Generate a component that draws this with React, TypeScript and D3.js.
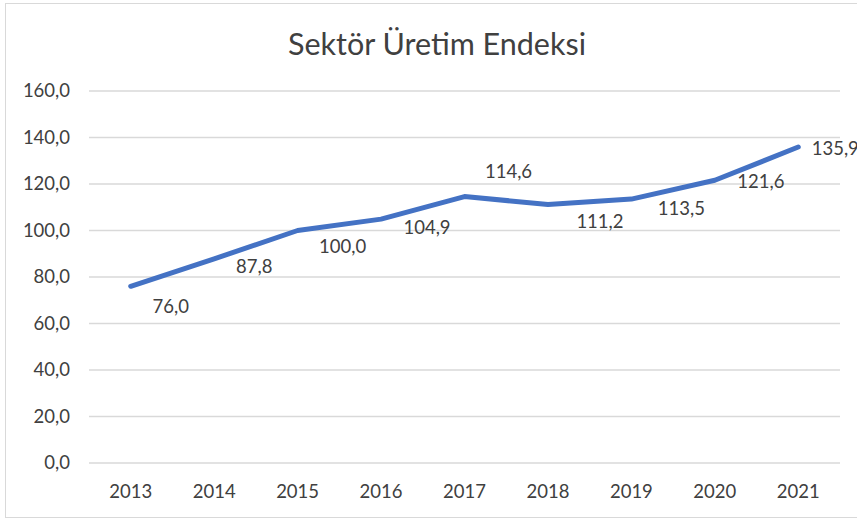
import React from "react";
import * as d3 from "d3";

const years = ["2013", "2014", "2015", "2016", "2017", "2018", "2019", "2020", "2021"];
const values = [76.0, 87.8, 100.0, 104.9, 114.6, 111.2, 113.5, 121.6, 135.9];
const yTicks = [0, 20, 40, 60, 80, 100, 120, 140, 160];
const title = "Sektör Üretim Endeksi";

// label placement (layout), relative to each point
const labelOffsets: [number, number][] = [
  [40, 27], [40, 14], [45, 22], [46, 15], [44, -19], [52, 24], [50, 16], [46, 8], [37, 8],
];

const W = 857;
const H = 521;
const FONT = "Lato, 'Open Sans', sans-serif";
const TEXT = "#404040";

export default function App() {
  const x = d3.scaleBand<string>().domain(years).range([89, 840]).padding(0);
  const y = d3.scaleLinear().domain([0, 160]).range([463, 91]);
  const fmt = (v: number) => v.toFixed(1).replace(".", ",");
  const cx = (d: string) => (x(d) as number) + x.bandwidth() / 2;
  const line = d3
    .line<number>()
    .x((_, i) => cx(years[i]))
    .y((v) => y(v));

  return (
    <svg
      width={W}
      height={H}
      style={{ position: "absolute", left: 0, top: 0, background: "#fff" }}
      fontFamily={FONT}
    >
      <rect x={5.5} y={3.5} width={900} height={514} fill="#fff" stroke="#d9d9d9" strokeWidth={1} />
      <text x={437} y={55} textAnchor="middle" fontSize={30.5} fill={TEXT}>
        {title}
      </text>
      {yTicks.map((t) => (
        <g key={t}>
          <line x1={89} x2={840} y1={y(t)} y2={y(t)} stroke="#d9d9d9" strokeWidth={1.3} />
          <text x={70} y={y(t)} dy="0.35em" textAnchor="end" fontSize={18.5} fill={TEXT}>
            {fmt(t)}
          </text>
        </g>
      ))}
      {years.map((yr) => (
        <text key={yr} x={cx(yr)} y={498} textAnchor="middle" fontSize={18.5} fill={TEXT}>
          {yr}
        </text>
      ))}
      <path
        d={line(values) || ""}
        fill="none"
        stroke="#4472C4"
        strokeWidth={5}
        strokeLinejoin="round"
        strokeLinecap="round"
      />
      {values.map((v, i) => (
        <text
          key={i}
          x={cx(years[i]) + labelOffsets[i][0]}
          y={y(v) + labelOffsets[i][1]}
          textAnchor="middle"
          fontSize={18.5}
          fill={TEXT}
        >
          {fmt(v)}
        </text>
      ))}
    </svg>
  );
}
